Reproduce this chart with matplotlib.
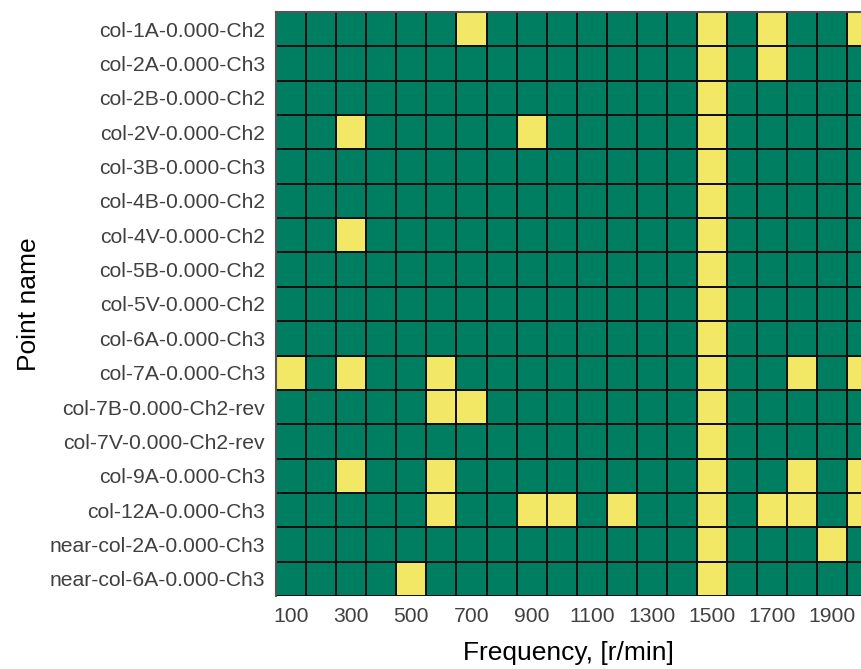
import numpy as np
import matplotlib.pyplot as plt
from matplotlib.colors import ListedColormap

plt.rcParams['font.family'] = ['Liberation Sans', 'DejaVu Sans']

# Points de mesure (de haut en bas)
point_names = [
    'col-1A-0.000-Ch2', 'col-2A-0.000-Ch3', 'col-2B-0.000-Ch2', 'col-2V-0.000-Ch2',
    'col-3B-0.000-Ch3', 'col-4B-0.000-Ch2', 'col-4V-0.000-Ch2', 'col-5B-0.000-Ch2',
    'col-5V-0.000-Ch2', 'col-6A-0.000-Ch3', 'col-7A-0.000-Ch3', 'col-7B-0.000-Ch2-rev',
    'col-7V-0.000-Ch2-rev', 'col-9A-0.000-Ch3', 'col-12A-0.000-Ch3',
    'near-col-2A-0.000-Ch3', 'near-col-6A-0.000-Ch3',
]

# Fréquences (r/min)
frequencies = list(range(100, 2100, 100))
tick_freqs = list(range(100, 2000, 200))

# Fréquences marquées (cellules jaunes) pour chaque point
flagged = [
    [700, 1500, 1700, 2000],
    [1500, 1700],
    [1500],
    [300, 900, 1500],
    [1500],
    [1500],
    [300, 1500],
    [1500],
    [1500],
    [1500],
    [100, 300, 600, 1500, 1800, 2000],
    [600, 700, 1500],
    [1500],
    [300, 600, 1500, 1800, 2000],
    [600, 900, 1000, 1200, 1500, 1700, 1800, 2000],
    [1500, 1900],
    [500, 1500],
]

matrix = np.zeros((len(point_names), len(frequencies)))
for i, row in enumerate(flagged):
    for f in row:
        matrix[i, frequencies.index(f)] = 1

fig = plt.figure(figsize=(8.61, 6.69), dpi=100)
ax = fig.add_axes([276 / 861, 1 - 596 / 669, 1 - 276 / 861 + 0.001, (596 - 12) / 669])

cmap = ListedColormap(['#007E62', '#F2E866'])
ax.pcolormesh(np.arange(len(frequencies) + 1) - 0.5,
              np.arange(len(point_names) + 1) - 0.5,
              matrix, cmap=cmap, vmin=0, vmax=1,
              edgecolors='#111111', linewidth=1.4)

ax.set_xlim(-0.5, 18.98)
ax.set_ylim(len(point_names) - 0.5, -0.5)

ax.set_yticks(range(len(point_names)))
ax.set_yticklabels(point_names)
ax.set_xticks([frequencies.index(f) for f in tick_freqs])
ax.set_xticklabels([str(f) for f in tick_freqs])
ax.tick_params(length=0, labelsize=15.2, labelcolor='#404040', pad=8)

for side in ['left', 'top']:
    ax.spines[side].set_color('#555555')
    ax.spines[side].set_linewidth(1.5)
for side in ['right', 'bottom']:
    ax.spines[side].set_visible(False)

ax.set_xlabel('Frequency, [r/min]', fontsize=19, labelpad=11)
ax.set_ylabel('Point name', fontsize=19, labelpad=6)

plt.savefig('out.png', dpi=100)
plt.close(fig)
